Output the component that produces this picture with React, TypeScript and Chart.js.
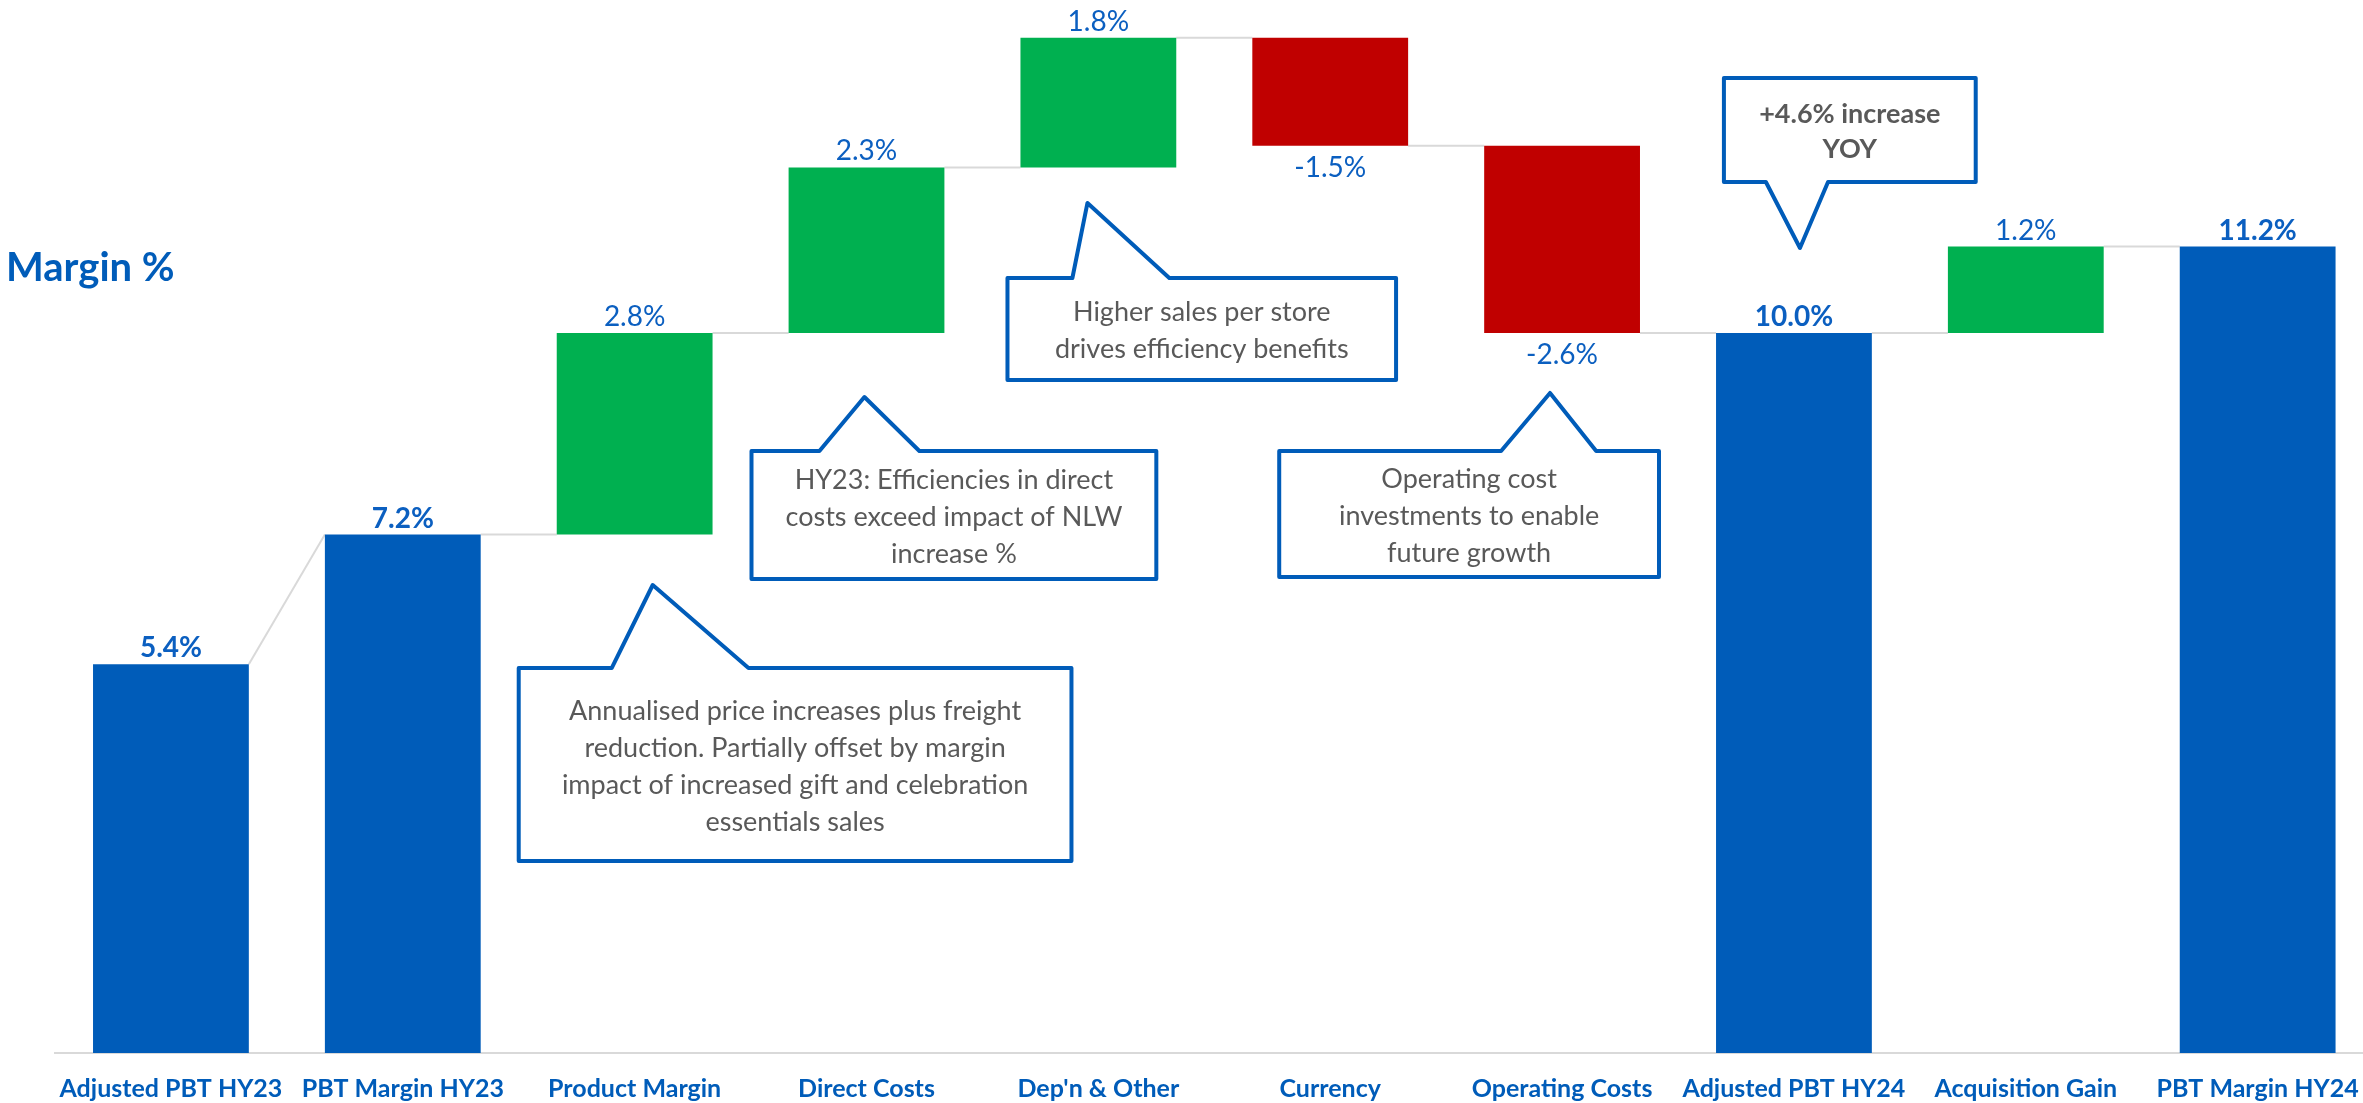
import React, { useEffect, useRef } from "react";
import { Chart, registerables } from "chart.js";

Chart.register(...registerables);

// ---- data ----
const categories = [
  "Adjusted PBT HY23",
  "PBT Margin HY23",
  "Product Margin",
  "Direct Costs",
  "Dep'n & Other",
  "Currency",
  "Operating Costs",
  "Adjusted PBT HY24",
  "Acquisition Gain",
  "PBT Margin HY24",
];
const values = [5.4, 7.2, 2.8, 2.3, 1.8, -1.5, -2.6, 10.0, 1.2, 11.2];
const isTotal = [true, true, false, false, false, false, false, true, false, true];

const yAxisTitle = "Margin %";
const yMin = 0;
const yMax = 14.625;

// callouts: text lines, box [x0, x1] in category units, [yTop, yBottom] in value units
const calloutTexts = [
  ["Annualised price increases plus freight", "reduction. Partially offset by margin", "impact of increased gift and celebration", "essentials sales"],
  ["HY23: Efficiencies in direct", "costs exceed impact of NLW", "increase %"],
  ["Higher sales per store", "drives efficiency benefits"],
  ["Operating cost", "investments to enable", "future growth"],
  ["+4.6% increase", "YOY"],
];
const calloutBoldText = [false, false, false, false, true];
const calloutBoxX = [[1.5, 3.884], [2.504, 4.25], [3.608, 5.284], [4.78, 6.418], [6.698, 7.784]];
const calloutBoxY = [[5.347, 2.667], [8.361, 6.583], [10.764, 9.347], [8.361, 6.611], [13.542, 12.097]];
// pointer: side, base x0, base x1, tip x (category units), tip y (value units)
const calloutPointerSide = ["top", "top", "top", "top", "bottom"];
const calloutPointerBase = [[1.901, 2.491], [2.797, 3.228], [3.888, 4.306], [5.737, 6.147], [6.879, 7.147]];
const calloutPointerTip = [[2.078, 6.5], [2.991, 9.111], [3.953, 11.806], [5.948, 9.167], [7.026, 11.181]];

// ---- styles ----
const BLUE = "#005CB9";
const LABEL_BLUE = "#0B5FC0";
const GREEN = "#00B050";
const RED = "#C00000";
const GREY_LINE = "#D9D9D9";
const TEXT_GREY = "#595959";
const FONT = "Lato, 'Open Sans', sans-serif";

function computeFloating() {
  const starts: number[] = [];
  const ends: number[] = [];
  let run = 0;
  values.forEach((v, i) => {
    if (isTotal[i]) {
      starts.push(0);
      ends.push(v);
      run = v;
    } else {
      starts.push(run);
      ends.push(run + v);
      run = run + v;
    }
  });
  return { starts, ends };
}

function fmt(v: number) {
  return v.toFixed(1) + "%";
}

export default function App() {
  const ref = useRef<HTMLCanvasElement | null>(null);

  useEffect(() => {
    document.body.style.margin = "0";
    const canvas = ref.current;
    if (!canvas) return;
    const { starts, ends } = computeFloating();
    const colors = values.map((v, i) => (isTotal[i] ? BLUE : v >= 0 ? GREEN : RED));

    const decorPlugin = {
      id: "decor",
      beforeDatasetsDraw(chart: any) {
        const ctx = chart.ctx;
        const meta = chart.getDatasetMeta(0);
        const ys = chart.scales.y;
        ctx.save();
        ctx.strokeStyle = GREY_LINE;
        ctx.lineWidth = 2;
        for (let i = 0; i < values.length - 1; i++) {
          const a = meta.data[i];
          const b = meta.data[i + 1];
          const y1 = ys.getPixelForValue(ends[i]);
          const y2 = ys.getPixelForValue(isTotal[i + 1] ? ends[i + 1] : starts[i + 1]);
          ctx.beginPath();
          ctx.moveTo(a.x + a.width / 2, y1);
          ctx.lineTo(b.x - b.width / 2, y2);
          ctx.stroke();
        }
        ctx.restore();
      },
      afterDraw(chart: any) {
        const ctx = chart.ctx;
        const meta = chart.getDatasetMeta(0);
        const xs = chart.scales.x;
        const ys = chart.scales.y;
        const xp0 = xs.getPixelForValue(0);
        const xp1 = xs.getPixelForValue(1);
        const xAt = (u: number) => xp0 + u * (xp1 - xp0);
        const yAt = (v: number) => ys.getPixelForValue(v);

        ctx.save();
        // data labels
        values.forEach((v, i) => {
          const el = meta.data[i];
          const top = Math.min(el.y, el.base);
          const bottom = Math.max(el.y, el.base);
          ctx.font = (isTotal[i] ? "bold " : "") + "28px " + FONT;
          ctx.fillStyle = LABEL_BLUE;
          ctx.textAlign = "center";
          ctx.textBaseline = "alphabetic";
          if (v >= 0) {
            ctx.fillText(fmt(v), el.x, top - 7);
          } else {
            ctx.fillText(fmt(v), el.x, bottom + 31);
          }
        });

        // y title
        ctx.font = "bold 40px " + FONT;
        ctx.fillStyle = BLUE;
        ctx.textAlign = "left";
        ctx.textBaseline = "alphabetic";
        ctx.fillText(yAxisTitle, 6, 281);

        // callouts
        calloutTexts.forEach((lines, k) => {
          const x0 = xAt(calloutBoxX[k][0]);
          const x1 = xAt(calloutBoxX[k][1]);
          const yT = yAt(calloutBoxY[k][0]);
          const yB = yAt(calloutBoxY[k][1]);
          const bx0 = xAt(calloutPointerBase[k][0]);
          const bx1 = xAt(calloutPointerBase[k][1]);
          const tx = xAt(calloutPointerTip[k][0]);
          const ty = yAt(calloutPointerTip[k][1]);
          ctx.beginPath();
          if (calloutPointerSide[k] === "top") {
            ctx.moveTo(x0, yT);
            ctx.lineTo(bx0, yT);
            ctx.lineTo(tx, ty);
            ctx.lineTo(bx1, yT);
            ctx.lineTo(x1, yT);
            ctx.lineTo(x1, yB);
            ctx.lineTo(x0, yB);
          } else {
            ctx.moveTo(x0, yT);
            ctx.lineTo(x1, yT);
            ctx.lineTo(x1, yB);
            ctx.lineTo(bx1, yB);
            ctx.lineTo(tx, ty);
            ctx.lineTo(bx0, yB);
            ctx.lineTo(x0, yB);
          }
          ctx.closePath();
          ctx.fillStyle = "#FFFFFF";
          ctx.fill();
          ctx.lineWidth = 4;
          ctx.lineJoin = "round";
          ctx.strokeStyle = BLUE;
          ctx.stroke();

          const lh = calloutBoldText[k] ? 35 : 37;
          ctx.font = (calloutBoldText[k] ? "bold " : "") + "27px " + FONT;
          ctx.fillStyle = TEXT_GREY;
          ctx.textAlign = "center";
          ctx.textBaseline = "middle";
          const cx = (x0 + x1) / 2;
          const cy = (yT + yB) / 2 + 2;
          const startY = cy - ((lines.length - 1) * lh) / 2;
          lines.forEach((ln, j) => ctx.fillText(ln, cx, startY + j * lh));
        });
        ctx.restore();
      },
    };

    const chart = new Chart(canvas, {
      type: "bar",
      data: {
        labels: categories,
        datasets: [
          {
            data: values.map((_, i) => [starts[i], ends[i]]) as any,
            backgroundColor: colors,
            borderWidth: 0,
            categoryPercentage: 1,
            barPercentage: 0.672,
          },
        ],
      },
      options: {
        responsive: false,
        animation: false,
        devicePixelRatio: 1,
        layout: { padding: { left: 55, right: 5, top: 0, bottom: 0 } },
        plugins: {
          legend: { display: false },
          tooltip: { enabled: false },
          title: { display: false },
        },
        scales: {
          x: {
            grid: { display: false, drawTicks: false },
            border: { display: true, color: GREY_LINE, width: 2 },
            ticks: {
              color: BLUE,
              font: { family: FONT, size: 25, weight: "bold" },
              padding: 21,
              maxRotation: 0,
              autoSkip: false,
            },
            afterFit: (s: any) => {
              s.height = 50;
            },
          },
          y: {
            display: false,
            min: yMin,
            max: yMax,
          },
        },
      },
      plugins: [decorPlugin],
    });
    return () => chart.destroy();
  }, []);

  return (
    <div
      style={{
        position: "fixed",
        left: 0,
        top: 0,
        width: "2363px",
        height: "1103px",
        overflow: "hidden",
        background: "#FFFFFF",
      }}
    >
      <canvas ref={ref} width={2380} height={1103} style={{ display: "block" }} />
    </div>
  );
}
